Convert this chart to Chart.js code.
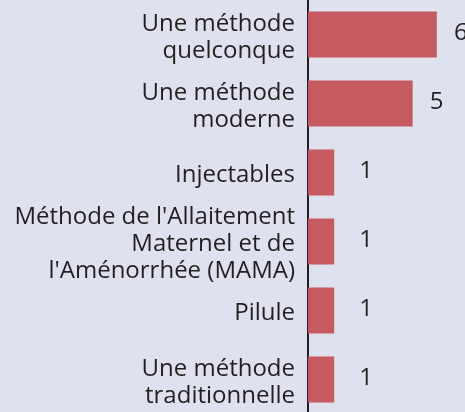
<!DOCTYPE html>
<html lang="fr">
<head>
<meta charset="UTF-8">
<title>Méthodes</title>
<script src="https://cdn.jsdelivr.net/npm/chart.js"></script>
<style>
    html, body { margin: 0; padding: 0; background: #E0E1EE; overflow: hidden; }
    #wrap { position: relative; width: 465px; height: 414px; }
</style>
</head>
<body>
<div id="wrap"><canvas id="chart"></canvas></div>
<script>
// catégories (libellés sur plusieurs lignes)
const categories = [
    ['Une méthode', 'quelconque'],
    ['Une méthode', 'moderne'],
    ['Injectables'],
    ["Méthode de l'Allaitement", 'Maternel et de', "l'Aménorrhée (MAMA)"],
    ['Pilule'],
    ['Une méthode', 'traditionnelle']
];
// valeurs estimées (longueur des barres)
const values = [6.4, 5.2, 1.3, 1.3, 1.3, 1.3];
// étiquettes affichées
const valueLabels = ['6', '5', '1', '1', '1', '1'];

const TEXT = '#231F20';
const FONT = '"Open Sans", sans-serif';

const valuePlugin = {
    id: 'valuePlugin',
    afterDatasetsDraw(chart) {
        const ctx = chart.ctx;
        const meta = chart.getDatasetMeta(0);
        ctx.save();
        ctx.fillStyle = TEXT;
        ctx.font = '24px ' + FONT;
        ctx.textAlign = 'center';
        ctx.textBaseline = 'middle';
        meta.data.forEach((bar, i) => {
            const x = Math.max(bar.x + 24, chart.chartArea.left + 58);
            ctx.fillText(valueLabels[i], x, bar.y - 1);
        });
        ctx.restore();
    }
};

new Chart(document.getElementById('chart'), {
    type: 'bar',
    data: {
        labels: categories,
        datasets: [{
            data: values,
            backgroundColor: '#C55A60',
            categoryPercentage: 0.67,
            barPercentage: 1.0
        }]
    },
    options: {
        indexAxis: 'y',
        responsive: true,
        maintainAspectRatio: false,
        animation: false,
        layout: { padding: 0 },
        plugins: {
            legend: { display: false },
            tooltip: { enabled: false }
        },
        scales: {
            x: { display: false, min: 0, max: 7.8 },
            y: {
                grid: { display: false, drawTicks: false },
                border: { display: true, color: TEXT, width: 2 },
                ticks: {
                    color: TEXT,
                    padding: 13,
                    autoSkip: false,
                    labelOffset: 3,
                    font: { family: FONT, size: 24, lineHeight: 1.12 }
                },
                afterFit(scale) {
                    scale.width = 308;
                    scale.paddingTop = 0;
                    scale.paddingBottom = 0;
                }
            }
        }
    },
    plugins: [valuePlugin]
});
</script>
</body>
</html>
